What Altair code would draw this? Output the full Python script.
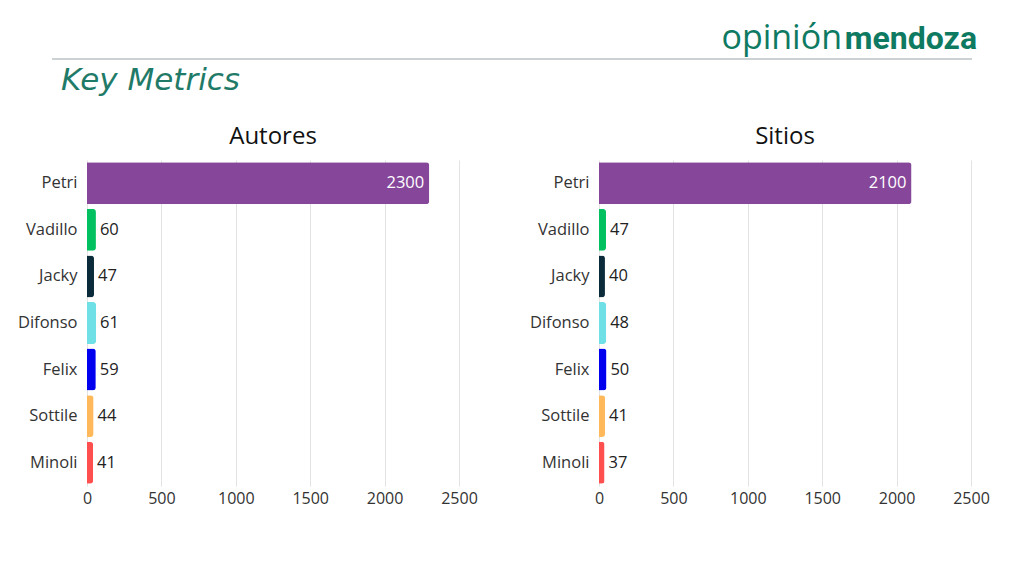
import altair as alt
import pandas as pd

names = ["Petri", "Vadillo", "Jacky", "Difonso", "Felix", "Sottile", "Minoli"]
autores = [2300, 60, 47, 61, 59, 44, 41]
sitios = [2100, 47, 40, 48, 50, 41, 37]
colors = ["#86479a", "#00c060", "#0b2a3a", "#6ee0e6", "#0000ee", "#ffb85a", "#ff4f4f"]
x_ticks = [0, 500, 1000, 1500, 2000, 2500]

FONT = "Open Sans"
OX = 87  # page x of header origin (aligned with left plot)
OY = 8


def panel(values, title):
    df = pd.DataFrame({"name": names, "value": values})
    y = alt.Y("name:N", sort=names, title=None,
              scale=alt.Scale(paddingInner=0.1, paddingOuter=0.05),
              axis=alt.Axis(ticks=False, domain=False, labelFontSize=16.5, labelColor="#333333",
                            labelFont=FONT, labelPadding=10, minExtent=79, grid=False))
    x = alt.X("value:Q", title=None, scale=alt.Scale(domain=[0, 2500], nice=False),
              axis=alt.Axis(values=x_ticks, format="d", domain=False, ticks=False,
                            gridColor="#e3e3e3", labelFontSize=16, labelColor="#333333",
                            labelFont=FONT, labelPadding=4, labelFlush=False))
    bars = alt.Chart(df).mark_bar(cornerRadiusEnd=3).encode(
        y=y, x=x,
        color=alt.Color("name:N", scale=alt.Scale(domain=names, range=colors), legend=None),
    )
    inside = alt.Chart(df).transform_filter("datum.value > 1000").mark_text(
        align="right", dx=-5, fontSize=16.5, font=FONT, color="white").encode(
        y=alt.Y("name:N", sort=names), x="value:Q", text="value:Q")
    outside = alt.Chart(df).transform_filter("datum.value <= 1000").mark_text(
        align="left", dx=4, fontSize=16.5, font=FONT, color="#222222").encode(
        y=alt.Y("name:N", sort=names), x="value:Q", text="value:Q")
    return alt.layer(bars, inside, outside).properties(
        width=372, height=326,
        title=alt.TitleParams(title, fontSize=24, font=FONT, fontWeight="normal",
                              color="#111111", anchor="middle", offset=11))


one = pd.DataFrame({"k": [0]})
rule = alt.Chart(one).mark_rule(color="#9aa5a8", strokeWidth=1.2).encode(
    x=alt.value(52 - OX), x2=alt.value(972 - OX), y=alt.value(59 - OY))
key = alt.Chart(one).mark_text(text="Key Metrics", align="left", baseline="alphabetic",
                               fontSize=31, fontStyle="italic", font="DejaVu Sans",
                               color="#1f7a68").encode(
    x=alt.value(61 - OX), y=alt.value(90 - OY))
logo1 = alt.Chart(one).mark_text(text="opinión", align="right", baseline="alphabetic",
                                 fontSize=34, font="Open Sans", color="#0f7a62").encode(
    x=alt.value(842 - OX), y=alt.value(49 - OY))
logo2 = alt.Chart(one).mark_text(text="mendoza", align="right", baseline="alphabetic",
                                 fontSize=32, fontWeight="bold", font="Roboto", color="#0f7a62").encode(
    x=alt.value(977 - OX), y=alt.value(49 - OY))
header = alt.layer(rule, key, logo1, logo2).properties(width=860, height=117)

chart = alt.vconcat(
    header,
    alt.hconcat(panel(autores, "Autores"), panel(sitios, "Sitios"), spacing=42),
    spacing=0,
).properties(padding=0, background="white").configure_view(stroke=None)

chart.save("out.html", embed_options={"renderer": "svg", "actions": False})
